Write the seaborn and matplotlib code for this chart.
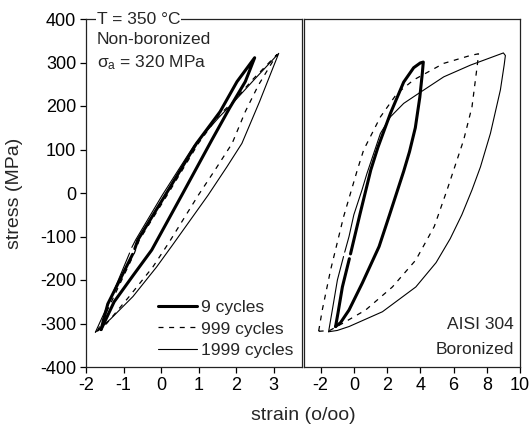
"""
Cyclic stress-strain hysteresis loops, AISI 304 at 350 C,
non-boronized (left) vs boronized (right).
"""

import numpy as np
import pandas as pd
import matplotlib
matplotlib.use("Agg")
import matplotlib.pyplot as plt
import seaborn as sns
from matplotlib.lines import Line2D

nan = np.nan

# digitised loops: right branch from the bottom tip up, then left branch back down
# (nan = small break in the recorded curve)
nb9_strain = [-1.60, -1.25, -0.75, -0.25, 0.55, 1.35, 1.82, 2.24, 2.49,
              2.02, 1.57, 0.95, 0.11, -0.62, -0.70, nan, -0.76, -1.10, -1.42, -1.60]
nb9_stress = [-314, -250, -190, -131, -5, 122, 195, 256, 311,
              256, 187, 115, -5, -108, -128, nan, -141, -200, -255, -314]

nb999_strain = [-1.70, -1.45, -0.85, -0.22, 0.20, 0.99, 1.45, 1.89, 2.24, 2.59, 3.08,
                2.45, 1.90, 1.55, 1.00, 0.16, -0.58, -0.72, -1.35, -1.70]
nb999_stress = [-318, -300, -238, -170, -115, -5, 55, 114, 187, 248, 318,
                262, 208, 180, 115, -5, -108, -140, -255, -318]

nb1999_strain = [-1.75, -1.35, -0.75, -0.12, 0.30, 1.25, 1.75, 2.15, 2.62, 3.13,
                 2.45, 1.89, 1.55, 0.88, 0.03, -0.68, -0.78, nan, -0.84, -1.38, -1.75]
nb1999_stress = [-320, -290, -238, -170, -120, -5, 60, 114, 210, 321,
                 258, 205, 175, 110, -5, -108, -125, nan, -138, -250, -320]

b9_strain = [-1.10, -0.80, -0.29, 0.51, 1.52, 2.15, 3.00, 3.35, 3.70, 3.97, 4.12, 4.18,
             4.00, 3.60, 3.00, 2.20, 1.45, 1.02, 0.36, -0.20, nan, -0.27, -0.69, -0.95, -1.10]
b9_stress = [-307, -298, -269, -207, -123, -50, 50, 95, 150, 220, 275, 301,
             299, 288, 255, 183, 105, 53, -50, -140, nan, -151, -216, -275, -307]

b999_strain = [-2.12, -1.45, -0.69, 0.71, 2.32, 3.73, 4.84, 5.61, 6.61, 7.11, 7.45, 7.50,
               7.00, 5.41, 3.60, 2.60, 1.60, 0.59, 0.21, -0.62, -1.40, -1.90, -2.12]
b999_stress = [-318, -316, -300, -269, -216, -154, -77, 7, 122, 198, 300, 320,
               316, 298, 260, 229, 175, 99, 53, -55, -177, -269, -318]

b1999_strain = [-1.52, -1.00, -0.29, 1.72, 3.73, 4.95, 5.80, 6.50, 7.11, 7.62, 8.22, 8.82,
                9.05, 9.12, 9.00, 7.02, 5.41, 3.90, 3.00, 2.20, 1.60, 0.79, 0.49, 0.00,
                -0.29, -0.55, nan, -0.62, -0.99, -1.30, -1.52]
b1999_stress = [-319, -316, -307, -273, -216, -160, -105, -50, 7, 60, 137, 237,
                295, 316, 322, 294, 267, 229, 206, 175, 137, 45, 7, -50,
                -100, -136, nan, -146, -200, -270, -319]

cycle_labels = ["9 cycles", "999 cycles", "1999 cycles"]

# line style per cycle count
styles = {
    "9 cycles": dict(lw=2.2, linestyle="-"),
    "999 cycles": dict(lw=0.9, linestyle=(0, (4, 4.5))),
    "1999 cycles": dict(lw=0.8, linestyle="-"),
}


def loop_frame(strain, stress, label):
    """Turn one digitised loop into a long frame, split at the breaks."""
    df = pd.DataFrame({"strain": strain, "stress": stress})
    df["seg"] = df["stress"].isna().cumsum()
    df = df.dropna().copy()
    df["cycles"] = label
    return df


def draw_loops(ax, loops):
    for (strain, stress), label in zip(loops, cycle_labels):
        df = loop_frame(strain, stress, label)
        sns.lineplot(data=df, x="strain", y="stress", units="seg",
                     estimator=None, sort=False, color="black",
                     legend=False, ax=ax, **styles[label])


sns.set_theme(style="ticks")
plt.rcParams["font.family"] = ["Liberation Sans", "DejaVu Sans"]
plt.rcParams["mathtext.fontset"] = "custom"
plt.rcParams["mathtext.rm"] = "Liberation Sans"
plt.rcParams["axes.unicode_minus"] = False

fig = plt.figure(figsize=(5.32, 4.30), dpi=100)
W, H = 532, 430
ax1 = fig.add_axes([86 / W, 63 / H, 216 / W, 348 / H])
ax2 = fig.add_axes([304 / W, 63 / H, 216 / W, 348 / H])

draw_loops(ax1, [(nb9_strain, nb9_stress), (nb999_strain, nb999_stress),
                 (nb1999_strain, nb1999_stress)])
draw_loops(ax2, [(b9_strain, b9_stress), (b999_strain, b999_stress),
                 (b1999_strain, b1999_stress)])

for ax in (ax1, ax2):
    ax.set_ylim(-400, 400)
    ax.set_xlabel("")
    ax.set_ylabel("")
    for sp in ax.spines.values():
        sp.set_visible(True)
        sp.set_linewidth(0.9)
        sp.set_color("#222222")
    ax.tick_params(axis="both", direction="out", length=4.5, width=0.9,
                   labelsize=13, pad=2.5, colors="black")

ax1.set_xlim(-2, 3.75)
ax1.set_xticks(np.arange(-2, 4, 1))
ax1.set_yticks(np.arange(-400, 401, 100))

ax2.set_xlim(-3, 10)
ax2.set_xticks(np.arange(-2, 11, 2))
ax2.set_yticks([])

# annotations
ax1.text(0.05, 1.0, "T = 350 °C", transform=ax1.transAxes, fontsize=12.5,
         ha="left", va="center",
         bbox=dict(boxstyle="square,pad=0.05", fc="white", ec="none"))
ax1.text(0.05, 0.94, "Non-boronized", transform=ax1.transAxes, fontsize=12.5,
         ha="left", va="center")
ax1.text(0.05, 0.876, r"$\mathregular{\sigma_a}$ = 320 MPa", transform=ax1.transAxes,
         fontsize=12.5, ha="left", va="center")

ax2.text(0.972, 0.121, "AISI 304", transform=ax2.transAxes, fontsize=12.5,
         ha="right", va="center")
ax2.text(0.972, 0.049, "Boronized", transform=ax2.transAxes, fontsize=12.5,
         ha="right", va="center")

handles = [Line2D([], [], color="black", **styles[lab]) for lab in cycle_labels]
ax1.legend(handles, cycle_labels, loc="lower right", frameon=False, fontsize=12.5,
           handlelength=2.25, handletextpad=0.25, labelspacing=0.38,
           borderaxespad=0.25, borderpad=0.25)

fig.text(15 / W, 1 - 193 / H, "stress (MPa)", rotation=90, fontsize=14,
         ha="center", va="center")
fig.text(303 / W, 1 - 415 / H, "strain (o/oo)", fontsize=14,
         ha="center", va="center")

fig.savefig("out.png", dpi=100)
